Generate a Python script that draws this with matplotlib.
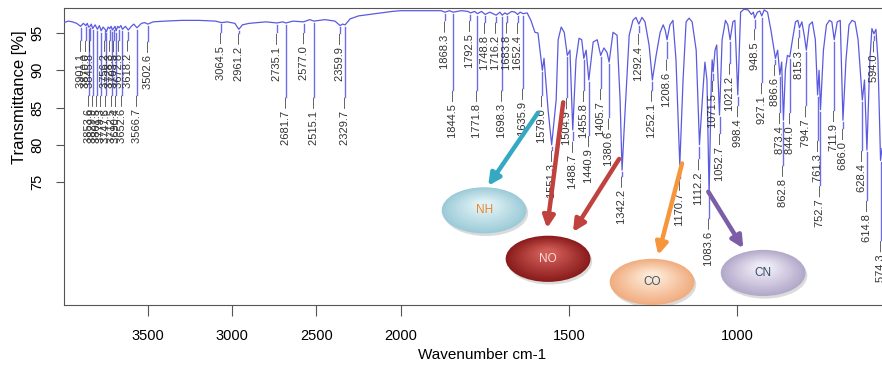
import numpy as np
import matplotlib
matplotlib.use("Agg")
import matplotlib.pyplot as plt
from matplotlib.patches import Ellipse
from matplotlib.colors import to_rgb

plt.rcParams['font.family'] = ['Liberation Sans', 'DejaVu Sans']
NARROW = ['Liberation Sans Narrow', 'Liberation Sans', 'DejaVu Sans']

# IR spectrum, points between the labelled bands (cm-1, %T)
base_wn = [4000, 3975, 3950, 3925, 3885, 3862, 3838, 3815, 3790, 3768, 3738, 3720,
           3697, 3681, 3662, 3635, 3600, 3585, 3540, 3520, 3470, 3400, 3300, 3200,
           3100, 3030, 2985, 2940, 2900, 2800, 2700, 2640, 2540, 2450, 2390, 2345,
           2300, 2250, 2150, 2050, 2000, 1950, 1900, 1880, 1855, 1820, 1800, 1780,
           1760, 1735, 1705, 1690, 1670, 1660, 1645,
           1624, 1613, 1601, 1592, 1574, 1562, 1538, 1532, 1523, 1514, 1497, 1479,
           1470, 1462, 1449, 1428, 1416, 1396, 1387, 1369, 1357, 1348, 1333, 1321,
           1310, 1301, 1283, 1274, 1262, 1241, 1229, 1220, 1214, 1200, 1191, 1182,
           1161, 1152, 1143, 1134, 1122, 1102, 1096, 1090, 1077, 1074.5, 1066, 1061,
           1045, 1035, 1028, 1013, 1007, 990, 980, 968, 958, 952, 940, 933, 920,
           910, 900, 893, 880, 868, 857, 851, 836, 827, 820, 808, 801, 786, 777,
           768, 757, 744, 735, 726, 719, 703, 694, 677, 668, 659, 650, 641, 622,
           606, 600, 588, 582, 570]
base_t = [96.4, 96.6, 96.5, 96.3, 96.3, 96.3, 96.2, 96.1, 96.0, 95.8, 95.8, 95.9,
          95.9, 95.9, 96.0, 95.9, 95.9, 96.2, 96.3, 96.4, 96.5, 96.6, 96.7, 96.7,
          96.6, 96.5, 96.3, 96.1, 96.3, 96.5, 96.5, 96.6, 96.8, 96.8, 96.6, 96.2,
          96.9, 97.3, 97.6, 97.9, 98.0, 98.0, 98.0, 98.0, 98.0, 98.0, 97.9, 97.9,
          97.9, 97.8, 97.8, 97.7, 97.9, 97.8, 97.8,
          97.7, 96.7, 95.1, 95.0, 91.6, 84.7, 86.0, 94.1, 95.8, 95.1, 92.7, 91.4,
          94.3, 94.1, 92.7, 93.8, 94.1, 93.0, 92.4, 95.1, 94.7, 86.0, 84.7, 94.7,
          96.7, 97.1, 97.1, 96.5, 93.4, 92.0, 95.1, 96.1, 95.4, 96.1, 96.7, 91.4,
          88.7, 96.5, 97.0, 96.5, 92.7, 87.3, 91.1, 88.7, 88.7, 91.4, 92.7, 93.4,
          94.1, 96.7, 96.1, 96.5, 96.7, 97.8, 98.2, 98.1, 97.5, 97.8, 97.8, 97.95, 98.1,
          97.8, 95.4, 93.4, 92.7, 91.1, 90.0, 92.0, 94.1, 96.5, 96.7, 96.5, 94.7, 96.1, 96.5,
          94.1, 90.0, 92.7, 96.1, 96.7, 96.5, 96.5, 96.7, 91.4, 96.1, 96.7, 96.5, 94.1, 88.7,
          91.4, 95.6, 95.5, 91.4, 79.5]

# labelled bands: wavenumber, %T at the band, %T where its label starts
peak_wn = [3901.1, 3870.0, 3853.6, 3845.8, 3829.9, 3801.5, 3779.3, 3756.2, 3747.6,
           3728.3, 3712.5, 3703.5, 3690.4, 3672.8, 3652.6, 3618.2, 3566.7, 3502.6,
           3064.5, 2961.2, 2735.1, 2681.7, 2577.0, 2515.1, 2359.9, 2329.7,
           1868.3, 1844.5, 1792.5, 1771.8, 1748.8, 1716.2, 1698.3, 1683.8, 1652.4,
           1635.9, 1579.0, 1551.3, 1504.9, 1488.7, 1455.8, 1440.9, 1405.7, 1380.6,
           1342.2, 1292.4, 1252.1, 1208.6, 1170.7, 1112.2, 1083.6, 1071.5, 1052.7,
           1021.2, 998.4, 948.5, 927.1, 886.6, 873.4, 862.8, 844.0, 815.3, 794.7,
           761.3, 752.7, 711.9, 686.0, 628.4, 614.8, 594.0, 574.3]
peak_t = [95.9, 96.0, 95.8, 95.9, 95.6, 95.5, 95.3, 95.5, 95.2,
          95.6, 95.4, 95.7, 95.3, 95.7, 95.5, 95.4, 95.7, 96.2,
          96.4, 95.5, 96.35, 96.35, 96.5, 96.6, 96.0, 96.1,
          97.8, 97.8, 97.7, 97.6, 97.5, 97.4, 97.4, 97.5, 97.5,
          97.6, 90.0, 80.0, 92.0, 82.0, 91.6, 88.7, 92.0, 91.1,
          76.6, 96.2, 88.7, 94.1, 77.3, 80.0, 73.3, 89.8, 84.0,
          94.1, 86.7, 97.0, 97.3, 91.6, 89.4, 83.3, 91.8, 95.7, 92.7,
          86.7, 84.7, 94.1, 83.3, 86.0, 79.3, 94.9, 77.9]
label_top = [94.1, 94.1, 86.7, 94.1, 86.7, 86.7, 86.7, 94.1, 86.7,
             94.1, 86.7, 94.1, 86.7, 94.1, 86.7, 94.1, 86.7, 93.9,
             95.1, 95.0, 95.1, 86.4, 95.1, 86.4, 95.0, 86.4,
             96.7, 87.35, 96.7, 87.35, 96.5, 96.5, 87.35, 96.5, 96.5,
             87.6, 86.7, 79.3, 86.4, 80.6, 87.35, 81.3, 87.6, 83.7,
             75.8, 95.1, 87.35, 91.6, 75.5, 78.2, 70.2, 88.7, 81.6,
             91.0, 85.3, 95.7, 88.4, 90.9, 84.4, 77.3, 84.4, 94.5, 85.3,
             80.6, 74.6, 84.7, 82.3, 79.3, 72.6, 94.0, 67.2]

# functional group call-outs: name, ellipse centre, arrow tails and heads
groups = ['NH', 'NO', 'CO', 'CN']
group_wn = [1752, 1562, 1253, 923]
group_t = [71.2, 64.7, 61.6, 62.8]
group_fill = [('#9ccbd8', '#dff1f5'), ('#8a1c1c', '#cf5b55'),
              ('#f0ad80', '#fde6d2'), ('#b3a9cb', '#eeeaf5')]
group_text = ['#e8862a', '#f6dede', '#3c5a6c', '#34506a']
arrow_from = [(1592, 84.3), (1517, 85.7), (1351, 78.1), (1164, 77.5), (1086, 73.7)]
arrow_to = [(1740, 74.5), (1565, 68.8), (1488, 68.3), (1235, 65.2), (982, 66.1)]
arrow_col = ['#35a8c4', '#c0413d', '#c0413d', '#f7953a', '#7b5ea7']


def fwd(w):
    w = np.asarray(w, dtype=float)
    return np.where(w > 2000, 2000 + (w - 2000) / 2, w)


def inv(t):
    t = np.asarray(t, dtype=float)
    return np.where(t > 2000, 2000 + (t - 2000) * 2, t)


fig = plt.figure(figsize=(8.82, 3.73), dpi=100)
ax = fig.add_axes([64 / 882, 1 - 305 / 373, 1 - 64 / 882, 297 / 373])
ax.set_xscale('function', functions=(fwd, inv))
ax.set_xlim(4000, 570)
ax.set_ylim(58.5, 98.36)

wn = np.array(base_wn + peak_wn)
tr = np.array(base_t + peak_t)
order = np.argsort(-wn)
ax.plot(wn[order], tr[order], color='#5a5ae0', lw=0.9, zorder=3)

for w, t, top in zip(peak_wn, peak_t, label_top):
    if t - 0.25 > top:
        ax.plot([w, w], [t - 0.25, top], color='#6c6ce6', lw=1.0, zorder=2)
    ax.text(w, top, f'{w:.1f} \u2014', rotation=90, ha='center', va='top',
            fontsize=8, family=NARROW, color='#333333', zorder=3)

for name, cx, cy, (edge, centre), tc in zip(groups, group_wn, group_t, group_fill, group_text):
    ew, eh = 252, 6.2
    ax.add_patch(Ellipse((cx - 5, cy - 0.35), ew, eh, color='0.6', alpha=0.35,
                         lw=0, zorder=5))
    e_rgb, c_rgb = np.array(to_rgb(edge)), np.array(to_rgb(centre))
    n = 18
    for i in range(n):
        f = i / (n - 1)
        s = 1 - 0.8 * f
        ax.add_patch(Ellipse((cx, cy + 0.12 * eh * f), ew * s, eh * s,
                             color=e_rgb * (1 - f) + c_rgb * f, lw=0, zorder=5))
    ax.text(cx, cy, name, ha='center', va='center', fontsize=8.5, color=tc, zorder=7)

for (x0, y0), (x1, y1), c in zip(arrow_from, arrow_to, arrow_col):
    ax.annotate('', xy=(x1, y1), xytext=(x0, y0), zorder=6,
                arrowprops=dict(arrowstyle='-|>,head_length=0.7,head_width=0.35',
                                lw=3.2, color=c, shrinkA=0, shrinkB=0))

for side in ['left', 'bottom', 'top']:
    ax.spines[side].set_color('#555555')
ax.spines['right'].set_visible(False)

ax.set_xticks([3500, 3000, 2500, 2000, 1500, 1000])
ax.set_xticklabels(['3500', '3000', '2500', '2000', '1500', '1000'])
ax.set_yticks([75, 80, 85, 90, 95])
ax.tick_params(axis='x', length=8, pad=9, labelsize=10.5, color='#555555')
ax.tick_params(axis='y', length=6, pad=8, labelsize=10.5, color='#555555')
for lab in ax.get_xticklabels() + ax.get_yticklabels():
    lab.set_family(NARROW)
for lab in ax.get_yticklabels():
    lab.set_rotation(90)
    lab.set_va('center')

fig.text(20 / 882, 1 - 97 / 373, 'Transmittance [%]', rotation=90,
         ha='center', va='center', fontsize=12, family=NARROW)
fig.text(482 / 882, 1 - 355 / 373, 'Wavenumber cm-1', ha='center', va='center',
         fontsize=11, family=NARROW)

fig.savefig('out.png', dpi=100)
